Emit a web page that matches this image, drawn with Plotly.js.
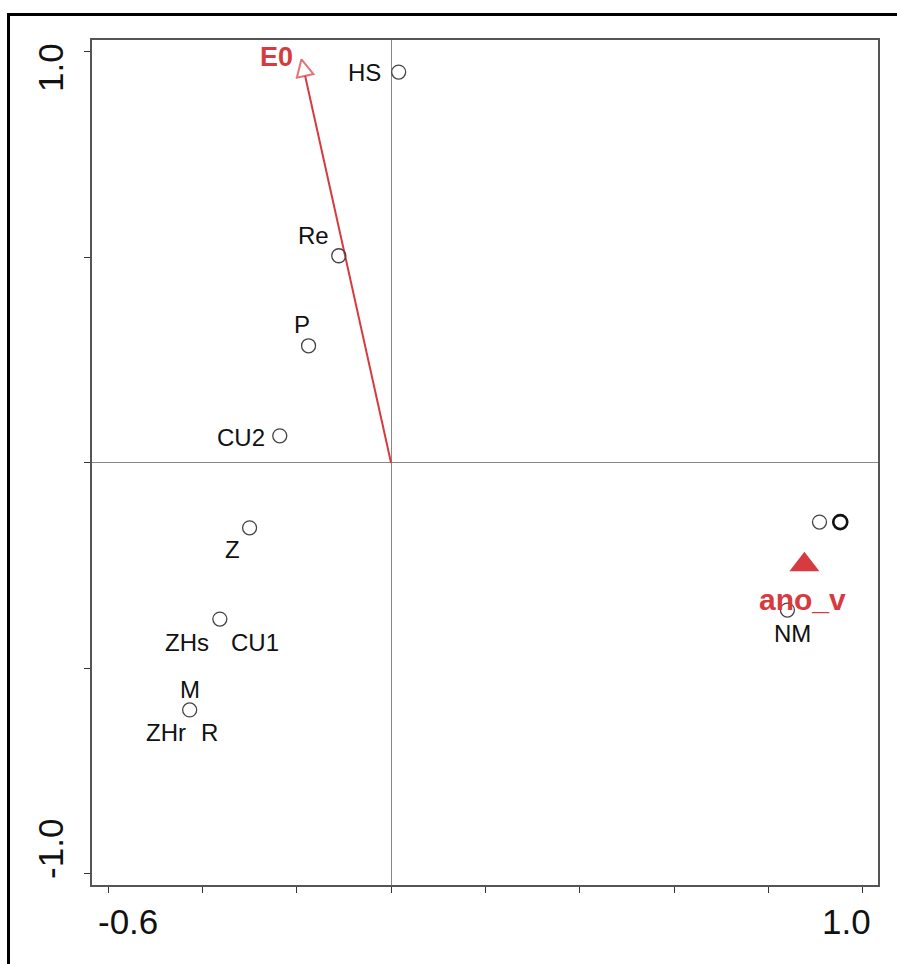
<!DOCTYPE html>
<html>
<head>
<meta charset="utf-8">
<script src="https://cdn.plot.ly/plotly-3.0.1.min.js"></script>
<style>
  html, body { margin:0; padding:0; overflow:hidden; background:#fff; }
  #chart { position:absolute; left:0; top:0; width:897px; height:964px; }
  #frame { position:absolute; left:7px; top:13px; width:1000px; height:1000px;
           border:3px solid #000; pointer-events:none; }
</style>
</head>
<body>
<div id="chart"></div>
<div id="frame"></div>
<script>
// ---- data ----
const siteNames = ["HS", "Re", "P", "CU2", "Z", "ZHs|CU1", "M|ZHr|R", "NM", "S1", "S2"];
const siteX = [0.016, -0.111, -0.175, -0.236, -0.300, -0.363, -0.427, 0.840, 0.908, 0.952];
const siteY = [0.951, 0.504, 0.285, 0.066, -0.158, -0.380, -0.601, -0.358, -0.144, -0.144];

const envName = "E0";
const envX = -0.190;
const envY = 0.982;

const factorName = "ano_v";
const factorX = 0.876;
const factorY = -0.248;

const xTickVals = [-0.6, -0.4, -0.2, 0.0, 0.2, 0.4, 0.6, 0.8, 1.0];
const yTickVals = [-1.0, -0.5, 0.0, 0.5, 1.0];
const xTickLabels = ["-0.6", "1.0"];
const xTickLabelVals = [-0.6, 1.0];
const yTickLabels = ["1.0", "-1.0"];
const yTickLabelVals = [1.0, -1.0];

// ---- styles (label placement per site) ----
// each site's labels: [text, xanchor, xshift, yshift]
const labelStyle = {
  "HS":  [["HS", "right", -16, 0]],
  "Re":  [["Re", "right", -8, 20]],
  "P":   [["P", "center", -7, 21]],
  "CU2": [["CU2", "right", -13, -2]],
  "Z":   [["Z", "center", -17, -22]],
  "ZHs|CU1": [["ZHs", "right", -9, -23], ["CU1", "left", 9, -23]],
  "M|ZHr|R": [["M", "center", 0, 20], ["ZHr", "right", -2, -23], ["R", "left", 9, -23]],
  "NM":  [["NM", "center", 5, -23]],
  "S1":  [],
  "S2":  []
};
const red = "#d63b40";
const FONT = "Liberation Sans, Arial, sans-serif";

const W = 897, H = 964;
const M = {l: 92, r: 19, t: 40, b: 79};
const xRange = [-0.634, 1.032];
const yRange = [-1.027, 1.029];

const traces = [];

// E0 arrow (open arrowhead whose tip sits on the vector end)
traces.push({
  x: [0, envX], y: [0, envY], mode: "lines+markers", type: "scatter",
  line: {color: red, width: 2},
  marker: {symbol: ["circle", "arrow-up"], size: [0, 17], color: "#ffffff",
           angleref: "previous", line: {color: red, width: 2}},
  hoverinfo: "skip", showlegend: false
});

// sites
traces.push({
  x: siteX, y: siteY, mode: "markers", type: "scatter",
  marker: {symbol: "circle-open", size: 14,
           color: siteNames.map(n => n === "S2" ? "#111" : "#444"),
           line: {width: siteNames.map(n => n === "S2" ? 2.6 : 1.3)}},
  hoverinfo: "skip", showlegend: false
});

// factor centroid
traces.push({
  x: [factorX], y: [factorY], mode: "markers", type: "scatter",
  marker: {symbol: "triangle-up", size: 26, color: red, line: {width: 0}},
  hoverinfo: "skip", showlegend: false
});

const annotations = [];
siteNames.forEach((n, i) => {
  (labelStyle[n] || []).forEach(s => {
    annotations.push({
      x: siteX[i], y: siteY[i], xref: "x", yref: "y", text: s[0], showarrow: false,
      xanchor: s[1], yanchor: "middle", xshift: s[2], yshift: s[3],
      font: {family: FONT, size: 24, color: "#111"}
    });
  });
});
annotations.push({
  x: envX, y: envY, xref: "x", yref: "y", text: "<b>" + envName + "</b>", showarrow: false,
  xanchor: "right", yanchor: "middle", xshift: -6, yshift: 2,
  font: {family: FONT, size: 27, color: red}
});
annotations.push({
  x: factorX, y: factorY, xref: "x", yref: "y", text: "<b>" + factorName + "</b>", showarrow: false,
  xanchor: "center", yanchor: "middle", xshift: -2, yshift: -35,
  font: {family: FONT, size: 30, color: red}
});
// axis tick labels
const xShifts = [20, -16];
xTickLabels.forEach((t, i) => {
  annotations.push({
    x: xTickLabelVals[i], y: 0, xref: "x", yref: "paper", text: t, showarrow: false,
    xanchor: "center", yanchor: "middle", xshift: xShifts[i], yshift: -36,
    font: {family: FONT, size: 35, color: "#111"}
  });
});
const yShifts = [-16, 25];
yTickLabels.forEach((t, i) => {
  annotations.push({
    x: 0, y: yTickLabelVals[i], xref: "paper", yref: "y", text: t, showarrow: false,
    textangle: -90, xanchor: "center", yanchor: "middle", xshift: -41, yshift: yShifts[i],
    font: {family: FONT, size: 35, color: "#111"}
  });
});

const axisCommon = {
  showticklabels: false,
  ticks: "outside", ticklen: 6, tickcolor: "#333", tickwidth: 1,
  showgrid: false, zeroline: true, zerolinecolor: "#888", zerolinewidth: 1,
  showline: true, mirror: true, linecolor: "#555", linewidth: 2
};

const layout = {
  width: W, height: H,
  margin: {l: M.l, r: M.r, t: M.t, b: M.b, pad: 0},
  paper_bgcolor: "#ffffff", plot_bgcolor: "#ffffff",
  showlegend: false,
  xaxis: Object.assign({range: xRange, tickvals: xTickVals}, axisCommon),
  yaxis: Object.assign({range: yRange, tickvals: yTickVals}, axisCommon),
  annotations: annotations
};

Plotly.newPlot("chart", traces, layout, {displayModeBar: false, staticPlot: true});
</script>
</body>
</html>
